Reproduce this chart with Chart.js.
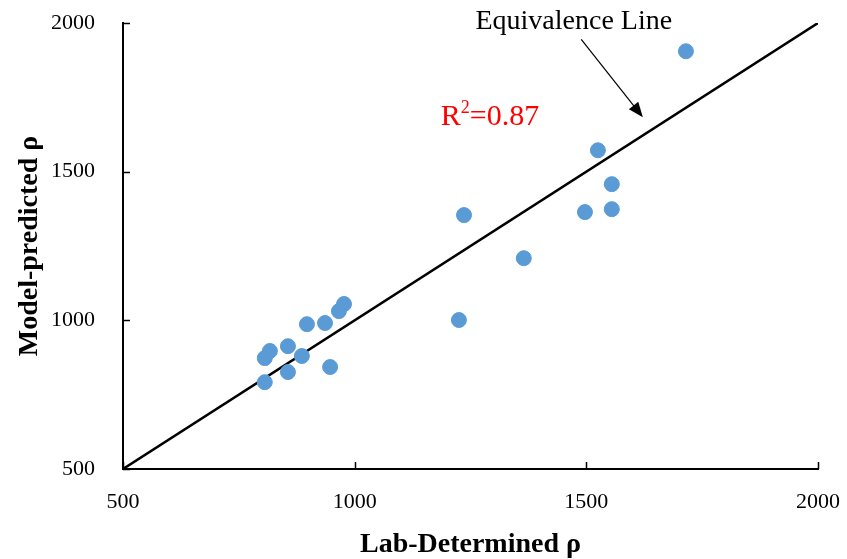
<!DOCTYPE html>
<html>
<head>
<meta charset="utf-8">
<script src="https://cdn.jsdelivr.net/npm/chart.js@4.4.1/dist/chart.umd.min.js"></script>
<style>
    html, body { margin: 0; padding: 0; background: #fff; }
    #wrap { width: 847px; height: 559px; }
</style>
</head>
<body>
<div id="wrap"><canvas id="densityChart"></canvas></div>
<script>
// lab-determined vs model-predicted values
var labDetermined = [1715, 1525, 1555, 1497, 1555, 1236, 1365, 1225, 977, 966, 897, 936, 856, 817, 806, 886, 856, 947, 806];
var modelPredicted = [1905, 1572, 1458, 1364, 1374, 1354, 1209, 1001, 1055, 1031, 987, 991, 913, 897, 873, 880, 826, 843, 792];
var equivalenceX = [500, 2000];
var equivalenceY = [500, 2000];
var axisTicks = [500, 1000, 1500, 2000];

var serif = "'Liberation Serif', 'Times New Roman', serif";

var points = [];
for (var i = 0; i < labDetermined.length; i++) {
    points.push({ x: labDetermined[i], y: modelPredicted[i] });
}
var equivalence = [];
for (var j = 0; j < equivalenceX.length; j++) {
    equivalence.push({ x: equivalenceX[j], y: equivalenceY[j] });
}

// inner tick marks, arrow and text labels
var annotations = {
    id: "annotations",
    afterDraw: function (chart) {
        var ctx = chart.ctx;
        var xs = chart.scales.x;
        var ys = chart.scales.y;
        var area = chart.chartArea;
        ctx.save();
        ctx.strokeStyle = "#000";
        ctx.lineWidth = 1.5;
        ctx.beginPath();
        for (var t of axisTicks) {
            var px = Math.round(xs.getPixelForValue(t)) + 0.5;
            ctx.moveTo(px, area.bottom);
            ctx.lineTo(px, area.bottom - 7);
            var py = Math.round(ys.getPixelForValue(t)) + 0.5;
            ctx.moveTo(area.left, py);
            ctx.lineTo(area.left + 7, py);
        }
        ctx.stroke();

        // arrow pointing to the equivalence line
        var x0 = xs.getPixelForValue(1489), y0 = ys.getPixelForValue(1945);
        var x1 = xs.getPixelForValue(1622), y1 = ys.getPixelForValue(1683);
        var ang = Math.atan2(y1 - y0, x1 - x0);
        ctx.lineWidth = 1.2;
        ctx.beginPath();
        ctx.moveTo(x0, y0);
        ctx.lineTo(x1 - 12 * Math.cos(ang), y1 - 12 * Math.sin(ang));
        ctx.stroke();
        ctx.fillStyle = "#000";
        ctx.beginPath();
        ctx.moveTo(x1, y1);
        ctx.lineTo(x1 - 15 * Math.cos(ang) + 6 * Math.sin(ang), y1 - 15 * Math.sin(ang) - 6 * Math.cos(ang));
        ctx.lineTo(x1 - 15 * Math.cos(ang) - 6 * Math.sin(ang), y1 - 15 * Math.sin(ang) + 6 * Math.cos(ang));
        ctx.closePath();
        ctx.fill();

        ctx.textBaseline = "middle";
        ctx.textAlign = "center";
        ctx.font = "28px " + serif;
        ctx.fillText("Equivalence Line", xs.getPixelForValue(1473), ys.getPixelForValue(2006));

        ctx.fillStyle = "#ff0000";
        ctx.textAlign = "left";
        ctx.font = "30px " + serif;
        var rx = xs.getPixelForValue(1186), ry = ys.getPixelForValue(1683);
        ctx.fillText("R", rx, ry);
        var w = ctx.measureText("R").width;
        ctx.font = "18px " + serif;
        ctx.fillText("2", rx + w, ry - 9);
        var w2 = ctx.measureText("2").width;
        ctx.font = "30px " + serif;
        ctx.fillText("=0.87", rx + w + w2, ry);
        ctx.restore();
    }
};

var config = {
    type: "scatter",
    data: {
        datasets: [
            {
                label: "Samples",
                data: points,
                backgroundColor: "#5b9bd5",
                borderColor: "#5b9bd5",
                pointRadius: 7.5,
                pointHoverRadius: 7.5,
                order: 1,
            },
            {
                type: "line",
                label: "Equivalence Line",
                data: equivalence,
                borderColor: "#000",
                borderWidth: 2.5,
                pointRadius: 0,
                fill: false,
                order: 2,
            },
        ],
    },
    options: {
        responsive: true,
        maintainAspectRatio: false,
        animation: false,
        layout: { padding: { left: 0, right: 29, top: 23, bottom: 0 } },
        plugins: {
            legend: { display: false },
            tooltip: { enabled: false },
        },
        scales: {
            x: {
                type: "linear",
                min: 500,
                max: 2000,
                afterFit: function (scale) {
                    scale.height = 90;
                    scale.paddingRight = 0;
                    scale.paddingLeft = 0;
                },
                ticks: {
                    stepSize: 500,
                    color: "#000",
                    padding: 20,
                    maxRotation: 0,
                    callback: function (v) { return String(v); },
                    font: { family: serif, size: 22 },
                },
                grid: { display: true, drawOnChartArea: false, drawTicks: false },
                border: { display: true, color: "#000", width: 2 },
                title: {
                    display: true,
                    text: "Lab-Determined ρ",
                    color: "#000",
                    padding: 0,
                    font: { family: serif, size: 28, weight: "bold", lineHeight: 1 },
                },
            },
            y: {
                type: "linear",
                min: 500,
                max: 2000,
                afterFit: function (scale) {
                    scale.width = 123;
                    scale.paddingTop = 0;
                    scale.paddingBottom = 0;
                },
                ticks: {
                    stepSize: 500,
                    color: "#000",
                    padding: 28,
                    callback: function (v) { return String(v); },
                    font: { family: serif, size: 22 },
                },
                grid: { display: true, drawOnChartArea: false, drawTicks: false },
                border: { display: true, color: "#000", width: 2 },
                title: {
                    display: true,
                    text: "Model-predicted ρ",
                    color: "#000",
                    padding: { top: 16, bottom: 0 },
                    font: { family: serif, size: 28, weight: "bold", lineHeight: 1 },
                },
            },
        },
    },
    plugins: [annotations],
};

var densityChart = new Chart("densityChart", config);
</script>
</body>
</html>
